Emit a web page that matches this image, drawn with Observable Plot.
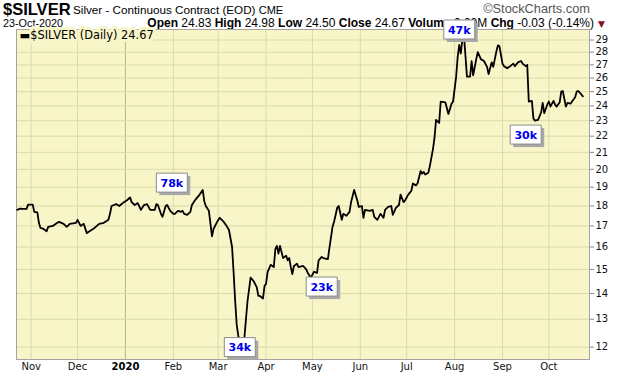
<!DOCTYPE html>
<html>
<head>
<meta charset="utf-8">
<script src="https://cdn.jsdelivr.net/npm/d3@7"></script>
<script src="https://cdn.jsdelivr.net/npm/@observablehq/plot@0.6"></script>
<style>
  body { margin: 0; background: #fff; }
  #wrap { position: relative; width: 620px; height: 376px; overflow: hidden; font-family: "Liberation Sans", Arial, sans-serif; color: #000; }
  #hdr { position: absolute; left: 0; top: 0; width: 620px; height: 30px; }
  .t { position: absolute; white-space: nowrap; line-height: 1; }
  #chart { position: absolute; left: 0; top: 0; }
</style>
</head>
<body>
<div id="wrap">
  <div id="hdr"></div>
  <div id="chart"></div>
</div>
<script>
// ---- header text ----
const symbolName = "$SILVER";
const symbolDesc = "Silver - Continuous Contract (EOD)";
const exchange = "CME";
const asOfDate = "23-Oct-2020";
const quoteLabels = ["Open", "High", "Low", "Close", "Volume", "Chg"];
const quoteValues = ["24.83", "24.98", "24.50", "24.67", "0.00M", "-0.03 (-0.14%)"];
const legendLabel = "$SILVER (Daily) 24.67";

// ---- price series (date, close) ----
const dates = [
  "2019-10-23","2019-10-25","2019-10-26","2019-10-29","2019-10-30",
  "2019-11-02","2019-11-03","2019-11-05","2019-11-06","2019-11-07","2019-11-09","2019-11-11","2019-11-12","2019-11-15","2019-11-17","2019-11-19","2019-11-22","2019-11-24","2019-11-26","2019-11-30",
  "2019-12-01","2019-12-03","2019-12-05","2019-12-07","2019-12-08","2019-12-12","2019-12-15","2019-12-18","2019-12-21","2019-12-22","2019-12-23","2019-12-26","2019-12-28","2019-12-31",
  "2020-01-02","2020-01-04","2020-01-05","2020-01-07","2020-01-09","2020-01-11","2020-01-13","2020-01-15","2020-01-17","2020-01-20","2020-01-21","2020-01-22","2020-01-24","2020-01-25","2020-01-27","2020-01-28","2020-01-30",
  "2020-02-01","2020-02-02","2020-02-04","2020-02-06","2020-02-07","2020-02-08","2020-02-10","2020-02-12","2020-02-13","2020-02-15","2020-02-16","2020-02-18","2020-02-20","2020-02-21","2020-02-22","2020-02-24","2020-02-26","2020-02-27","2020-02-29",
  "2020-03-02","2020-03-04","2020-03-06","2020-03-08","2020-03-10","2020-03-11","2020-03-12","2020-03-13","2020-03-14","2020-03-16","2020-03-17","2020-03-18","2020-03-20","2020-03-22","2020-03-24","2020-03-26","2020-03-27","2020-03-28","2020-03-30","2020-03-31",
  "2020-04-01","2020-04-02","2020-04-04","2020-04-06","2020-04-07","2020-04-08","2020-04-09","2020-04-10","2020-04-12","2020-04-14","2020-04-15","2020-04-16","2020-04-17","2020-04-18","2020-04-19","2020-04-21","2020-04-22","2020-04-25","2020-04-27","2020-04-28","2020-04-30",
  "2020-05-02","2020-05-04","2020-05-05","2020-05-07","2020-05-08","2020-05-11","2020-05-12","2020-05-14","2020-05-15","2020-05-17","2020-05-18","2020-05-20","2020-05-21","2020-05-23","2020-05-25","2020-05-26","2020-05-28","2020-05-30","2020-05-31",
  "2020-06-02","2020-06-03","2020-06-04","2020-06-07","2020-06-09","2020-06-10","2020-06-12","2020-06-14","2020-06-16","2020-06-17","2020-06-19","2020-06-21","2020-06-22","2020-06-24","2020-06-26","2020-06-27","2020-06-29","2020-06-30",
  "2020-07-02","2020-07-04","2020-07-05","2020-07-07","2020-07-08","2020-07-10","2020-07-11","2020-07-12","2020-07-13","2020-07-15","2020-07-16","2020-07-18","2020-07-19","2020-07-20","2020-07-22","2020-07-23","2020-07-26","2020-07-28","2020-07-30","2020-07-31",
  "2020-08-02","2020-08-03","2020-08-04","2020-08-05","2020-08-06","2020-08-07","2020-08-09","2020-08-11","2020-08-12","2020-08-13","2020-08-15","2020-08-16","2020-08-18","2020-08-20","2020-08-22","2020-08-23","2020-08-25","2020-08-26","2020-08-28","2020-08-29","2020-08-30",
  "2020-09-01","2020-09-02","2020-09-04","2020-09-06","2020-09-08","2020-09-09","2020-09-11","2020-09-13","2020-09-14","2020-09-16","2020-09-17","2020-09-18","2020-09-20","2020-09-21","2020-09-22","2020-09-24","2020-09-26","2020-09-27","2020-09-28","2020-09-30",
  "2020-10-01","2020-10-02","2020-10-04","2020-10-05","2020-10-06","2020-10-08","2020-10-09","2020-10-10","2020-10-12","2020-10-13","2020-10-15","2020-10-16","2020-10-18","2020-10-19","2020-10-20","2020-10-22","2020-10-23"
];
const prices = [
  17.80,17.87,17.85,17.85,18.07,
  18.07,17.70,17.67,17.15,16.90,16.85,16.74,16.95,17.00,17.10,17.20,17.10,16.95,17.10,17.15,
  17.30,17.00,17.10,16.65,16.70,16.90,17.10,17.15,17.30,17.60,18.00,18.10,18.00,18.20,
  18.30,18.45,18.20,18.05,18.15,17.80,18.05,18.10,17.80,17.80,18.10,18.05,17.60,17.45,18.00,18.05,17.75,
  17.60,17.60,17.75,17.70,17.75,17.60,17.55,17.70,18.05,18.30,18.40,18.60,18.85,18.25,18.00,17.75,16.50,16.85,17.15,
  17.40,17.25,17.05,16.80,16.00,14.86,13.70,12.80,12.40,11.90,11.95,12.35,13.70,14.65,14.50,14.25,13.90,13.90,13.80,14.30,
  14.40,14.90,15.20,15.10,15.90,16.05,15.70,16.05,15.50,15.60,15.40,15.50,15.10,14.80,15.15,15.25,15.10,15.15,15.00,14.85,14.65,
  14.90,14.85,15.40,15.55,15.50,15.45,15.96,16.95,17.20,17.90,18.00,17.30,17.60,17.50,17.70,18.20,18.85,18.30,17.95,
  18.00,17.40,17.80,17.75,17.80,17.45,17.30,17.60,17.40,17.80,17.95,18.00,17.55,17.90,18.05,18.60,18.20,18.30,
  18.60,18.80,19.20,19.10,19.20,19.90,19.75,19.85,19.70,19.80,20.20,21.20,21.90,23.05,22.85,24.30,24.25,23.45,24.15,24.30,
  26.10,27.65,28.60,27.90,29.00,29.50,26.10,26.10,27.30,26.20,27.45,28.00,27.45,27.30,26.85,26.30,27.20,26.85,28.05,28.55,28.50,
  27.10,26.90,26.75,26.90,27.10,26.90,27.20,27.30,27.10,26.90,27.00,24.30,24.35,23.15,23.00,23.05,23.55,24.20,23.50,24.10,
  24.30,23.95,24.35,24.10,23.95,24.25,25.00,25.05,23.95,24.20,24.15,24.30,24.60,25.00,25.05,24.80,24.67
];

// ---- volume annotations (box centre in date / price) ----
const annDates = ["2020-01-31", "2020-03-15", "2020-05-07", "2020-08-04", "2020-09-16"];
const annPrices = [19.25, 12.0, 14.28, 29.89, 22.1];
const annLabels = ["78k", "34k", "23k", "47k", "30k"];

// ---- axes ----
const xTickDates = ["2019-11-01","2019-12-01","2020-01-01","2020-02-01","2020-03-01","2020-04-01","2020-05-01","2020-06-01","2020-07-01","2020-08-01","2020-09-01","2020-10-01"];
const xTickLabels = ["Nov","Dec","2020","Feb","Mar","Apr","May","Jun","Jul","Aug","Sep","Oct"];
const yTicks = [12,13,14,15,16,17,18,19,20,21,22,23,24,25,26,27,28,29];
const xDomain = ["2019-10-22T12:00Z", "2020-10-27T07:00Z"];
const yDomain = [11.58, 29.89];

// ---- header ----
const hdr = document.getElementById("hdr");
function addT(html, style) {
  const d = document.createElement("div");
  d.className = "t";
  d.setAttribute("style", style);
  d.innerHTML = html;
  hdr.appendChild(d);
}
addT(symbolName, "left:3px;top:1px;font-size:16.5px;font-weight:bold;");
addT(symbolDesc + ' <span style="font-size:11px">' + exchange + '</span>', "left:73px;top:4px;font-size:11.7px;");
addT("©StockCharts.com", "right:30px;top:3px;font-size:12.8px;color:#555;");
addT(asOfDate, "left:3px;top:18px;font-size:10.8px;");
addT(quoteLabels.map((l, i) => "<b>" + l + "</b> " + quoteValues[i]).join(" "),
     "right:26px;top:17px;font-size:12px;");
addT("▼", "left:598px;top:19.5px;font-size:9px;color:#8b0a2a;font-family:'DejaVu Sans';");

// ---- chart ----
const bg = "#f8f6c9", grid = "#dadaab", grid2020 = "#b6b68a";
const rectSym = (w, h) => ({
  draw(c) {
    c.moveTo(-w / 2, -h / 2); c.lineTo(w / 2, -h / 2);
    c.lineTo(w / 2, h / 2); c.lineTo(-w / 2, h / 2); c.closePath();
  }
});
const data = dates.map((d, i) => ({date: new Date(d), price: prices[i]}));
const ann = annLabels.map((l, i) => ({date: new Date(annDates[i]), price: annPrices[i], label: l}));
const xt = xTickDates.map(d => new Date(d));
const labelOf = new Map(xt.map((d, i) => [+d, xTickLabels[i]]));
const xtYear = xt.filter(d => d.getUTCMonth() === 0);
const xtMonth = xt.filter(d => d.getUTCMonth() !== 0);

const chart = Plot.plot({
  width: 620,
  height: 376,
  marginTop: 29,
  marginBottom: 17,
  marginLeft: 16,
  marginRight: 31,
  style: {background: "transparent", fontFamily: "DejaVu Sans, sans-serif", fontSize: "10px", color: "#000"},
  x: {type: "utc", domain: xDomain.map(d => new Date(d)), label: null},
  y: {type: "log", domain: yDomain, label: null},
  marks: [
    Plot.frame({fill: bg, stroke: null}),
    Plot.gridX(xtMonth, {stroke: grid, strokeOpacity: 1}),
    Plot.gridX(xtYear, {stroke: grid2020, strokeOpacity: 1}),
    Plot.gridY(yTicks, {stroke: grid, strokeOpacity: 1}),
    Plot.frame({stroke: "#a4a4a4", fill: null}),
    Plot.text([legendLabel], {
      frameAnchor: "top-left", dx: 3, dy: 1, lineAnchor: "top", textAnchor: "start",
      text: d => "▬" + d, fill: "#000", stroke: bg, strokeWidth: 6, paintOrder: "stroke",
      fontSize: 11.4, fontFamily: "DejaVu Sans"
    }),
    Plot.lineY(data, {x: "date", y: "price", stroke: "#000", strokeWidth: 1.8, strokeLinejoin: "round"}),
    Plot.dot(ann, {x: "date", y: "price", symbol: rectSym(31, 19), dx: 3, dy: 3, fill: "#a8a8a8", stroke: null}),
    Plot.dot(ann, {x: "date", y: "price", symbol: rectSym(31, 19), fill: "#fff", stroke: "#8a8a8a", strokeWidth: 1}),
    Plot.text(ann, {x: "date", y: "price", text: "label", fill: "#0000ee", fontWeight: "bold",
      fontSize: 11, fontFamily: "DejaVu Sans", dy: 0.5}),
    Plot.axisY(yTicks, {anchor: "right", label: null, tickSize: 4, tickPadding: 2, tickFormat: d => String(d),
      fontSize: 10, fill: "#111", stroke: "#888", fontFamily: "DejaVu Sans"}),
    Plot.axisX(xtMonth, {anchor: "bottom", label: null, tickSize: 0, tickPadding: 3, tickFormat: d => labelOf.get(+d),
      fontSize: 10, fill: "#111", fontFamily: "DejaVu Sans"}),
    Plot.axisX(xtYear, {anchor: "bottom", label: null, tickSize: 0, tickPadding: 3, tickFormat: d => labelOf.get(+d),
      fontSize: 10, fill: "#000", fontWeight: "bold", fontFamily: "DejaVu Sans"})
  ]
});
document.getElementById("chart").appendChild(chart);
</script>
</body>
</html>
